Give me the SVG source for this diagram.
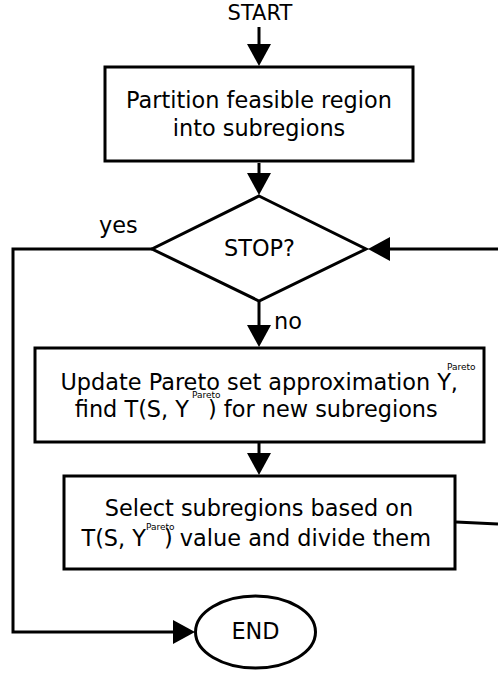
<svg xmlns="http://www.w3.org/2000/svg" width="498" height="675" viewBox="0 0 498 675">
<style>
.shape{fill:#fff;stroke:#000;stroke-width:3}
.conn{fill:none;stroke:#000;stroke-width:3}
text{font-family:"DejaVu Sans","Liberation Sans",sans-serif;font-size:22.4px;fill:#000}
.m{text-anchor:middle}
.e{text-anchor:end}
.sup{font-size:9px}
.st{font-size:21px}
</style>
<defs>
<marker id="arrow" markerUnits="userSpaceOnUse" viewBox="0 0 22 24" markerWidth="22" markerHeight="24" refX="18" refY="12" orient="auto">
<path d="M0,0 L22,12 L0,24 z" fill="#000"/>
</marker>
</defs>
<rect width="498" height="675" fill="#fff"/>
<g id="connectors">
<path class="conn" d="M259,27 V62" marker-end="url(#arrow)"/>
<path class="conn" d="M259,163 V191" marker-end="url(#arrow)"/>
<path class="conn" d="M259,302 V343" marker-end="url(#arrow)"/>
<path class="conn" d="M259,443 V471" marker-end="url(#arrow)"/>
<path class="conn" d="M152,249 H13 V632 H191" marker-end="url(#arrow)"/>
<path class="conn" d="M498,249 H372" marker-end="url(#arrow)"/>
<path class="conn" d="M456,522 L498,524"/>
<text x="99" y="233">yes</text>
<text x="274" y="329">no</text>
</g>
<g id="start">
<text class="m st" x="260" y="20">START</text>
</g>
<g id="partition">
<rect class="shape" x="105" y="67" width="308" height="94"/>
<text class="m" x="259" y="108">Partition feasible region</text>
<text class="m" x="259" y="136">into subregions</text>
</g>
<g id="stop">
<polygon class="shape" points="259,196 366,249 259,301 152,249"/>
<text class="m" x="259.5" y="256">STOP?</text>
</g>
<g id="update">
<rect class="shape" x="35" y="348" width="449" height="94"/>
<text class="e" x="458" y="390">Update Pareto set approximation Y,</text>
<text class="sup" x="447" y="370">Pareto</text>
<text class="e" x="189" y="417">find T(S, Y</text>
<text class="sup" x="192" y="398">Pareto</text>
<text x="208" y="417">) for new subregions</text>
</g>
<g id="select">
<rect class="shape" x="64" y="476" width="391" height="93"/>
<text class="m" x="259" y="516">Select subregions based on</text>
<text class="e" x="146" y="546">T(S, Y</text>
<text class="sup" x="146" y="530">Pareto</text>
<text x="164" y="546">) value and divide them</text>
</g>
<g id="end">
<ellipse class="shape" cx="255.5" cy="632" rx="60" ry="36"/>
<text class="m" x="255.5" y="639">END</text>
</g>
</svg>
